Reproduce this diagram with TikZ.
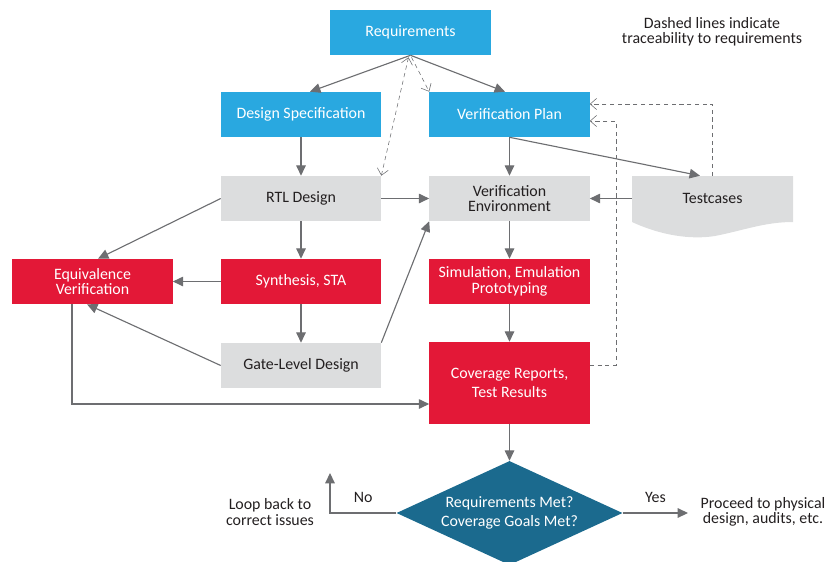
\documentclass[tikz,border=0pt]{standalone}
\usepackage{fontspec}
\setmainfont{Carlito}
\usepackage{tikz}
\usetikzlibrary{arrows.meta,positioning,calc,shapes.geometric}
\definecolor{reqBlue}{HTML}{29A8E0}
\definecolor{flowRed}{HTML}{E31837}
\definecolor{boxGray}{HTML}{DCDDDE}
\definecolor{decTeal}{HTML}{1B6A8E}
\definecolor{lineGray}{HTML}{6D6E71}
\definecolor{txtDark}{HTML}{231F20}

\begin{document}
\begin{tikzpicture}[x=0.025cm, y=-0.025cm, font=\fontsize{11.3}{13}\selectfont,
  bx/.style={minimum width=4cm, minimum height=1.125cm, inner sep=2pt, align=center},
  bluebox/.style={bx, fill=reqBlue, text=white},
  redbox/.style={bx, fill=flowRed, text=white},
  graybox/.style={bx, fill=boxGray, text=txtDark},
  flow/.style={lineGray, thick, -{Triangle[length=2.6mm,width=2.4mm]}},
  trace/.style={lineGray, thin, dashed, dash pattern=on 3pt off 2.5pt, -{Straight Barb[length=1.6mm,width=2.8mm]}},
  note/.style={text=txtDark, align=center}]
\clip (0,0) rectangle (828,561);
% ---------- top row ----------
\node[bluebox] (req) at (410.5,32.5) {Requirements};
\node[bluebox] (spec) at (301,114.5) {Design Specification};
\node[bluebox] (vplan) at (509.5,114.5) {Verification Plan};
% ---------- design / verification boxes ----------
\node[graybox] (rtl) at (301,198.5) {RTL Design};
\node[graybox] (venv) at (509.5,198.5) {Verification\\[-2pt]Environment};
\fill[boxGray] (632,176) -- (793,176) -- (793,222)
  .. controls (765,222) and (745,230) .. (715,236)
  .. controls (690,240) and (660,235) .. (632,222) -- cycle;
\node[note, minimum width=4cm, minimum height=1.125cm] (tc) at (712.5,198.5) {Testcases};
\node[redbox] (equiv) at (92.5,281.5) {Equivalence\\[-2pt]Verification};
\node[redbox] (synth) at (301,281.5) {Synthesis, STA};
\node[redbox] (sim) at (509.5,281.5) {Simulation, Emulation\\[-2pt]Prototyping};
\node[graybox] (gate) at (301,365.5) {Gate-Level Design};
\node[redbox, minimum height=2.05cm] (cov) at (509.5,383) {Coverage Reports,\\[1pt]Test Results};
\node[diamond, fill=decTeal, text=white, aspect=2.2, inner sep=0pt,
  minimum width=5.65cm, minimum height=2.6cm, align=center] (dec) at (509.5,513)
  {Requirements Met?\\[1pt]Coverage Goals Met?};
% ---------- side texts ----------
\node[note] (legend) at (712,32) {Dashed lines indicate\\[-2pt]traceability to requirements};
\node[note] (loop) at (270,512) {Loop back to\\[-2pt]correct issues};
\node[note] (proceed) at (763,512) {Proceed to physical\\[-2pt]design, audits, etc.};
\coordinate (noend) at (330,473);
\coordinate (yesend) at (688,513);
% ---------- solid flow ----------
\draw[flow] (req.south) -- ($(spec.north)+(9,0)$);
\draw[flow] (req.south) -- ($(vplan.north)+(-4.5,0)$);
\draw[flow] (spec) -- (rtl);
\draw[flow] (vplan) -- (venv);
\draw[flow] (vplan.south) -- ($(tc.north)+(-12.5,0)$);
\draw[flow] (tc) -- (venv);
\draw[flow] (rtl) -- (venv);
\draw[flow] (rtl.west) -- ($(equiv.north)+(5.5,0)$);
\draw[flow] (rtl) -- (synth);
\draw[flow] (synth) -- (equiv);
\draw[flow] (synth) -- (gate);
\draw[flow] (gate.west) -- ($(equiv.south)+(-5.5,0)$);
\draw[flow] (gate.north east) -- (venv.south west);
\draw[flow] ($(equiv.south)+(-20.5,0)$) |- ($(cov.west)+(0,21)$);
\draw[flow] (venv) -- (sim);
\draw[flow] (sim) -- (cov);
\draw[flow] (cov) -- (dec);
\draw[flow] (dec.west) -| (noend) node[pos=0.25, above=4pt, text=txtDark]{No};
\draw[flow] (dec.east) -- (yesend) node[midway, above=4pt, text=txtDark]{Yes};
% ---------- traceability ----------
\draw[trace, {Straight Barb[length=1.6mm,width=2.8mm]}-{Straight Barb[length=1.6mm,width=2.8mm]}]
  ($(req.south)+(-2,2)$) -- (rtl.north east);
\draw[trace] ($(req.south)+(1,2)$) -- (vplan.north west);
\draw[trace] (tc.north) |- ($(vplan.east)+(0,-10.5)$);
\draw[trace] ($(cov.east)+(0,-18)$) -- ++(26,0) |- ($(vplan.east)+(0,6.5)$);
\end{tikzpicture}
\end{document}
